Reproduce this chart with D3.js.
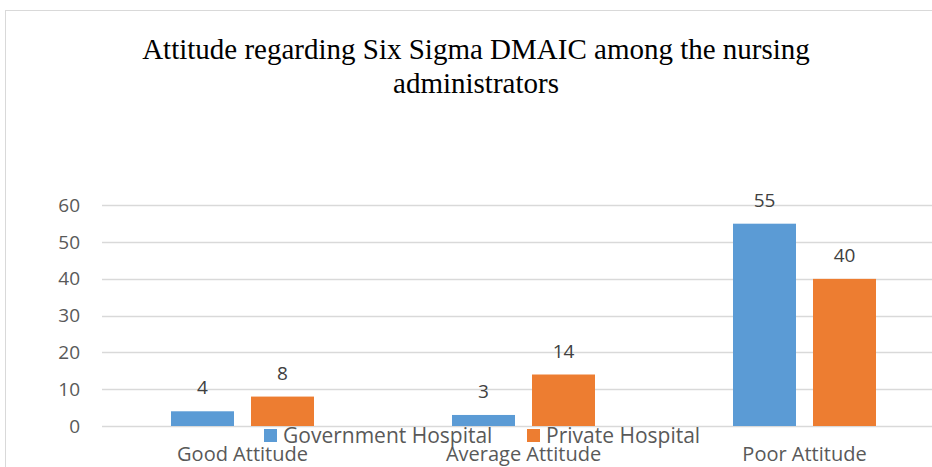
<!DOCTYPE html>
<html>
<head>
<meta charset="utf-8">
<script src="https://cdn.jsdelivr.net/npm/d3@7"></script>
<style>
  body { margin: 0; background: #fff; overflow: hidden; }
  text { font-family: "Open Sans", "Noto Sans", sans-serif; }
</style>
</head>
<body>
<div id="chart"></div>
<script>
// data
const categories = ["Good Attitude", "Average Attitude", "Poor Attitude"]
const series = ["Government Hospital", "Private Hospital"]
const government = [4, 3, 55]
const privateHosp = [8, 14, 40]
const yTicks = [0, 10, 20, 30, 40, 50, 60]
const colors = ["#5B9BD5", "#ED7D31"]

const width = 932, height = 467

const svg = d3.select("#chart")
  .append("svg")
  .attr("width", width)
  .attr("height", height)

// chart area frame (runs off the right/bottom edge, like the cropped original)
svg.append("rect")
  .attr("x", 5.5).attr("y", 10.5)
  .attr("width", 960).attr("height", 480)
  .attr("fill", "#fff")
  .attr("stroke", "#D9D9D9")

// title
const title = svg.append("text")
  .attr("text-anchor", "middle")
  .style("font-family", "'Liberation Serif', 'Times New Roman', serif")
  .style("font-size", "29px")
  .attr("fill", "#000")
title.append("tspan").attr("x", 476).attr("y", 59)
  .text("Attitude regarding Six Sigma DMAIC among the nursing")
title.append("tspan").attr("x", 476).attr("y", 93)
  .text("administrators")

// scales
const x0 = d3.scaleBand()
  .domain(categories)
  .range([102, 945])

const x1 = d3.scaleBand()
  .domain(series)
  .range([0, x0.bandwidth()])
  .paddingInner(0.2125)
  .paddingOuter(0.8625)

const y = d3.scaleLinear()
  .domain([0, 60])
  .range([426, 205.3])

// grid lines
svg.append("g")
  .selectAll("line")
  .data(yTicks)
  .join("line")
    .attr("x1", 102).attr("x2", 945)
    .attr("y1", d => Math.round(y(d)) + 0.5)
    .attr("y2", d => Math.round(y(d)) + 0.5)
    .attr("stroke", "#D9D9D9")
    .attr("stroke-width", 1.3)

// y axis labels
const yAxis = svg.append("g")
  .attr("transform", "translate(80,0)")
  .call(d3.axisLeft(y).tickValues(yTicks).tickSize(0).tickPadding(0))
yAxis.select(".domain").remove()
yAxis.selectAll("text")
  .style("font-size", "19px")
  .attr("fill", "#595959")

// bars
const rows = categories.map((c, i) => ({ cat: c, values: [government[i], privateHosp[i]] }))

const groups = svg.append("g")
  .selectAll("g")
  .data(rows)
  .join("g")
    .attr("transform", d => `translate(${x0(d.cat)},0)`)

groups.selectAll("rect")
  .data(d => d.values.map((v, j) => ({ s: series[j], v: v, j: j })))
  .join("rect")
    .attr("x", d => x1(d.s))
    .attr("width", x1.bandwidth())
    .attr("y", d => y(d.v))
    .attr("height", d => y(0) - y(d.v))
    .attr("fill", d => colors[d.j])

// value labels
groups.selectAll("text.val")
  .data(d => d.values.map((v, j) => ({ s: series[j], v: v, j: j })))
  .join("text")
    .attr("class", "val")
    .attr("x", d => x1(d.s) + x1.bandwidth() / 2)
    .attr("y", d => y(d.v) - 17)
    .attr("text-anchor", "middle")
    .style("font-size", "19px")
    .attr("fill", "#404040")
    .text(d => d.v)

// category labels
const xAxis = svg.append("g")
  .attr("transform", "translate(0,461)")
  .call(d3.axisBottom(x0).tickSize(0).tickPadding(0))
xAxis.select(".domain").remove()
xAxis.selectAll("text")
  .attr("dy", 0)
  .style("font-size", "20px")
  .attr("fill", "#595959")

// legend
const legendX = [264, 527]
const legend = svg.append("g")
  .selectAll("g")
  .data(series)
  .join("g")
    .attr("transform", (d, i) => `translate(${legendX[i]},429)`)
legend.append("rect")
  .attr("width", 13).attr("height", 13)
  .attr("fill", (d, i) => colors[i])
legend.append("text")
  .attr("x", 19).attr("y", 13.5)
  .style("font-size", "21px")
  .attr("fill", "#595959")
  .text(d => d)
</script>
</body>
</html>
